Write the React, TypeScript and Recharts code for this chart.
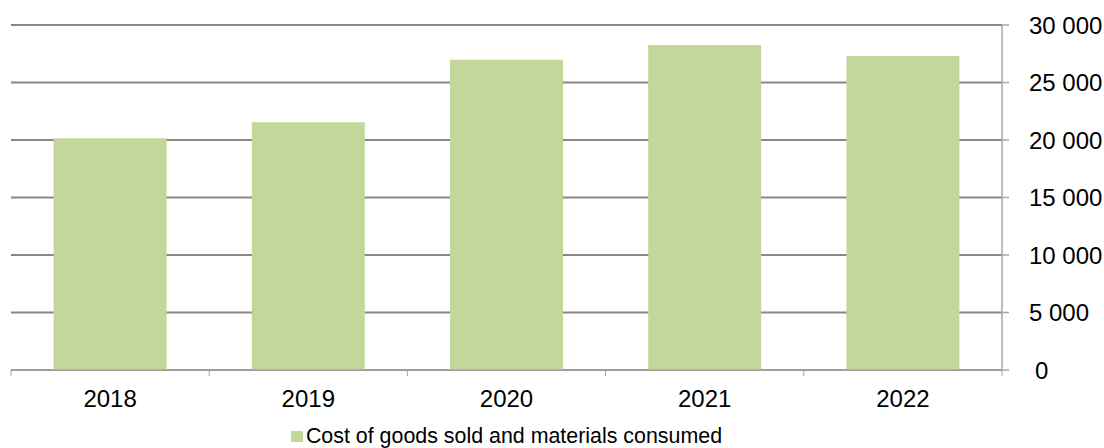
import { Bar, BarChart, CartesianGrid, Legend, XAxis, YAxis } from "recharts";

const years = ["2018", "2019", "2020", "2021", "2022"];
const costOfGoods = [20150, 21540, 26970, 28260, 27300];
const yTicks = [0, 5000, 10000, 15000, 20000, 25000, 30000];
const seriesName = "Cost of goods sold and materials consumed";

const data = years.map((year, i) => ({ year, cost: costOfGoods[i] }));

const FONT = '"Liberation Sans", Arial, sans-serif';
const BAR = "#c4d79b";
const AXIS = "#a6a6a6";
const GRID = "#888888";

const fmt = (v: number) => String(v).replace(/\B(?=(\d{3})+(?!\d))/g, " ");

function YearTick(props: any) {
  const { x, y, payload, index, visibleTicksCount } = props;
  const half = payload?.offset ?? 0;
  const axisY = y - 6;
  const last = index === visibleTicksCount - 1;
  return (
    <g>
      <line x1={x - half} x2={x - half} y1={axisY} y2={axisY + 6} stroke={AXIS} />
      {last && <line x1={x + half} x2={x + half} y1={axisY} y2={axisY + 6} stroke={AXIS} />}
      <text x={x} y={axisY + 37} textAnchor="middle" fill="#000" fontSize={24} fontFamily={FONT}>
        {payload.value}
      </text>
    </g>
  );
}

function ValueTick(props: any) {
  const { x, y, payload } = props;
  return (
    <text
      x={x + (payload.value === 0 ? 6 : 0)}
      y={y}
      dy="0.355em"
      textAnchor="start"
      fill="#000"
      fontSize={24}
      fontFamily={FONT}
    >
      {fmt(payload.value)}
    </text>
  );
}

function LegendContent() {
  return (
    <div
      style={{
        display: "flex",
        justifyContent: "center",
        alignItems: "center",
        height: 28,
        fontFamily: FONT,
        fontSize: 21.4,
        color: "#000",
      }}
    >
      <span style={{ width: 12, height: 11, background: BAR, marginRight: 3, marginTop: 4 }} />
      <span style={{ lineHeight: "28px", marginTop: 4 }}>{seriesName}</span>
    </div>
  );
}

export default function App() {
  return (
    <div style={{ position: "absolute", left: 0, top: 0 }}>
      <BarChart
        width={1104}
        height={448}
        data={data}
        margin={{ top: 25, right: 6, left: 11, bottom: 0 }}
        barCategoryGap="21.5%"
      >
        <CartesianGrid vertical={false} stroke={GRID} strokeWidth={2} />
        <XAxis
          dataKey="year"
          height={50}
          tickSize={6}
          tickMargin={0}
          tickLine={false}
          axisLine={{ stroke: AXIS, strokeWidth: 1.5 }}
          tick={<YearTick />}
          interval={0}
        />
        <YAxis
          orientation="right"
          width={96}
          domain={[0, 30000]}
          ticks={yTicks}
          interval={0}
          tickSize={7}
          tickMargin={20}
          tickLine={{ stroke: AXIS, strokeWidth: 1.5 }}
          axisLine={{ stroke: AXIS, strokeWidth: 1.5 }}
          tick={<ValueTick />}
        />
        <Legend
          verticalAlign="bottom"
          height={28}
          width={991}
          wrapperStyle={{ left: 11 }}
          content={<LegendContent />}
        />
        <Bar dataKey="cost" name={seriesName} fill={BAR} isAnimationActive={false} />
      </BarChart>
    </div>
  );
}
